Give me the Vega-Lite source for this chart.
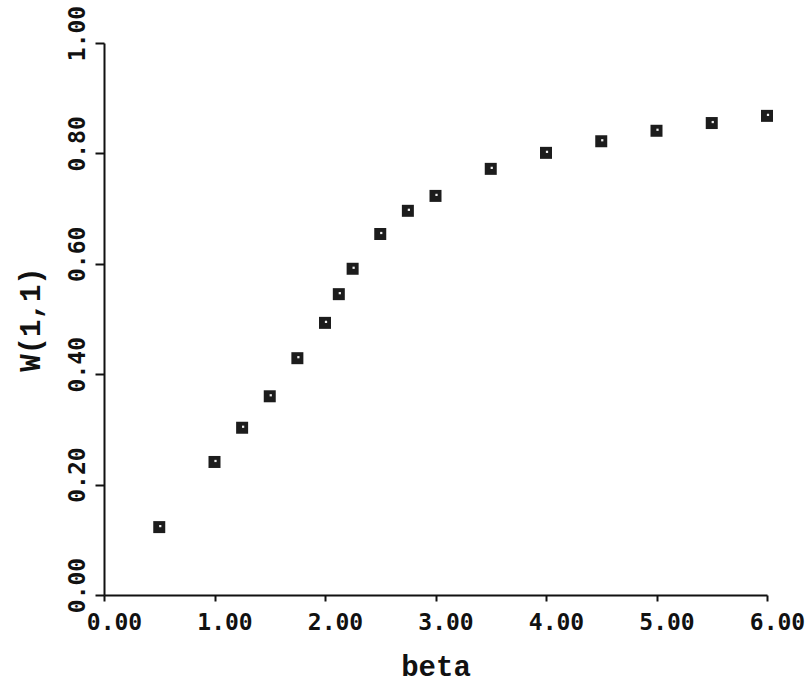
{
  "$schema": "https://vega.github.io/schema/vega-lite/v6.json",
  "width": 663,
  "height": 552,
  "autosize": {"type": "none"},
  "padding": {"left": 104, "top": 43, "right": 45, "bottom": 101},
  "background": "white",
  "config": {
    "view": {"stroke": null},
    "axis": {
      "domainColor": "#111",
      "domainWidth": 2,
      "tickColor": "#111",
      "tickWidth": 2,
      "grid": false,
      "labelFlush": false,
      "labelOverlap": false,
      "labelFont": "DejaVu Sans Mono",
      "labelFontWeight": "bold",
      "labelFontSize": 23,
      "labelColor": "#111",
      "titleFont": "Liberation Mono",
      "titleFontWeight": "bold",
      "titleFontSize": 29,
      "titleColor": "#111"
    }
  },
  "data": {
    "values": [
      {"beta": 0.5, "w": 0.123},
      {"beta": 1.0, "w": 0.241},
      {"beta": 1.25, "w": 0.303},
      {"beta": 1.5, "w": 0.360},
      {"beta": 1.75, "w": 0.429},
      {"beta": 2.0, "w": 0.493},
      {"beta": 2.125, "w": 0.545},
      {"beta": 2.25, "w": 0.591},
      {"beta": 2.5, "w": 0.654},
      {"beta": 2.75, "w": 0.696},
      {"beta": 3.0, "w": 0.723},
      {"beta": 3.5, "w": 0.772},
      {"beta": 4.0, "w": 0.801},
      {"beta": 4.5, "w": 0.822},
      {"beta": 5.0, "w": 0.841},
      {"beta": 5.5, "w": 0.855},
      {"beta": 6.0, "w": 0.868}
    ]
  },
  "encoding": {
    "x": {
      "field": "beta",
      "type": "quantitative",
      "scale": {"domain": [0, 6], "nice": false, "zero": false},
      "axis": {
        "title": "beta",
        "values": [0, 1, 2, 3, 4, 5, 6],
        "format": ".2f",
        "tickSize": 6,
        "labelPadding": 10,
        "labelOffset": 10,
        "titlePadding": 18
      }
    },
    "y": {
      "field": "w",
      "type": "quantitative",
      "scale": {"domain": [0, 1], "nice": false},
      "axis": {
        "title": "W(1,1)",
        "values": [0, 0.2, 0.4, 0.6, 0.8, 1.0],
        "format": ".2f",
        "tickSize": 9,
        "labelAngle": 270,
        "labelAlign": "center",
        "labelBaseline": "bottom",
        "labelPadding": 6,
        "labelOffset": -10,
        "titlePadding": 21
      }
    }
  },
  "layer": [
    {
      "mark": {"type": "square", "size": 144, "color": "#1c1c1c", "opacity": 1}
    },
    {
      "mark": {"type": "square", "size": 5, "color": "#f0f0f0", "opacity": 1, "xOffset": 1, "yOffset": -1}
    }
  ]
}
